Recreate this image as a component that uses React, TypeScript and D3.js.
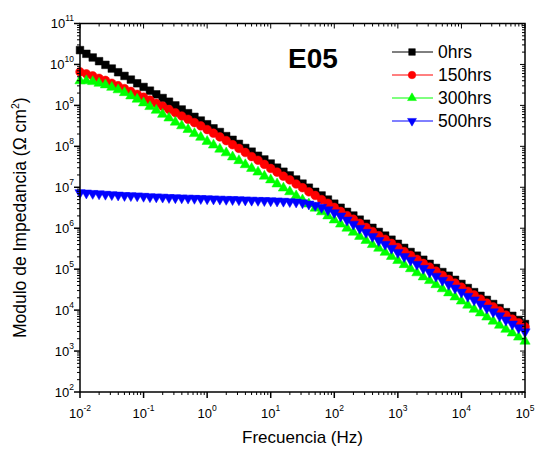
import React from 'react';
import * as d3 from 'd3';

// Sweep frequencies (Hz), 10 points per decade
const FREQ_HZ = [
  0.01, 0.01259, 0.01585, 0.01995, 0.02512, 0.03162, 0.03981, 0.05012, 0.0631, 0.07943,
  0.1, 0.1259, 0.1585, 0.1995, 0.2512, 0.3162, 0.3981, 0.5012, 0.631, 0.7943,
  1, 1.259, 1.585, 1.995, 2.512, 3.162, 3.981, 5.012, 6.31, 7.943,
  10, 12.59, 15.85, 19.95, 25.12, 31.62, 39.81, 50.12, 63.1, 79.43,
  100, 125.9, 158.5, 199.5, 251.2, 316.2, 398.1, 501.2, 631, 794.3,
  1000, 1259, 1585, 1995, 2512, 3162, 3981, 5012, 6310, 7943,
  10000, 12590, 15850, 19950, 25120, 31620, 39810, 50120, 63100, 79430,
  100000,
];

// log10 |Z| (Ohm cm^2) for each exposure time
const LOG_Z_0H = [
  10.35, 10.26, 10.17, 10.08, 9.99, 9.90, 9.81, 9.72, 9.63, 9.54,
  9.45, 9.36, 9.27, 9.18, 9.09, 9.00, 8.90, 8.81, 8.72, 8.63,
  8.54, 8.44, 8.35, 8.25, 8.16, 8.06, 7.96, 7.87, 7.77, 7.68,
  7.58, 7.48, 7.38, 7.29, 7.19, 7.09, 6.99, 6.89, 6.80, 6.70,
  6.60, 6.50, 6.40, 6.31, 6.21, 6.11, 6.01, 5.91, 5.82, 5.72,
  5.62, 5.52, 5.42, 5.33, 5.23, 5.13, 5.03, 4.93, 4.84, 4.74,
  4.64, 4.54, 4.44, 4.35, 4.25, 4.15, 4.05, 3.95, 3.86, 3.76,
  3.66,
];
const LOG_Z_150H = [
  9.82, 9.77, 9.72, 9.66, 9.61, 9.54, 9.48, 9.41, 9.34, 9.27,
  9.20, 9.13, 9.05, 8.98, 8.90, 8.82, 8.74, 8.66, 8.58, 8.50,
  8.41, 8.32, 8.23, 8.14, 8.04, 7.95, 7.85, 7.75, 7.66, 7.56,
  7.46, 7.37, 7.27, 7.18, 7.08, 6.99, 6.89, 6.80, 6.70, 6.61,
  6.51, 6.41, 6.31, 6.22, 6.12, 6.02, 5.92, 5.82, 5.73, 5.63,
  5.53, 5.43, 5.34, 5.24, 5.14, 5.05, 4.95, 4.85, 4.75, 4.66,
  4.56, 4.46, 4.37, 4.27, 4.17, 4.08, 3.98, 3.88, 3.78, 3.69,
  3.59,
];
const LOG_Z_300H = [
  9.60, 9.60, 9.58, 9.54, 9.50, 9.44, 9.38, 9.31, 9.23, 9.15,
  9.06, 8.97, 8.88, 8.78, 8.69, 8.59, 8.50, 8.41, 8.31, 8.22,
  8.12, 8.03, 7.93, 7.84, 7.74, 7.65, 7.55, 7.46, 7.37, 7.27,
  7.18, 7.08, 6.98, 6.89, 6.79, 6.69, 6.59, 6.49, 6.40, 6.30,
  6.20, 6.10, 6.00, 5.90, 5.80, 5.70, 5.60, 5.51, 5.41, 5.31,
  5.21, 5.11, 5.01, 4.91, 4.81, 4.72, 4.62, 4.52, 4.42, 4.32,
  4.22, 4.12, 4.02, 3.93, 3.83, 3.73, 3.63, 3.53, 3.44, 3.34,
  3.24,
];
const LOG_Z_500H = [
  6.87, 6.86, 6.85, 6.84, 6.83, 6.82, 6.81, 6.80, 6.795, 6.79,
  6.78, 6.77, 6.765, 6.76, 6.75, 6.745, 6.74, 6.735, 6.73, 6.725,
  6.72, 6.715, 6.71, 6.705, 6.70, 6.695, 6.69, 6.685, 6.68, 6.675,
  6.67, 6.665, 6.66, 6.65, 6.64, 6.62, 6.59, 6.56, 6.51, 6.45,
  6.38, 6.30, 6.20, 6.10, 6.00, 5.90, 5.80, 5.70, 5.61, 5.51,
  5.41, 5.31, 5.22, 5.12, 5.02, 4.93, 4.83, 4.73, 4.63, 4.54,
  4.44, 4.34, 4.25, 4.15, 4.05, 3.96, 3.86, 3.76, 3.66, 3.57,
  3.47,
];

const SERIES_NAMES = ['0hrs', '150hrs', '300hrs', '500hrs'];
const SERIES_COLORS = ['#000000', '#ff0000', '#00ff00', '#0000ff'];
const SERIES_SHAPES = ['square', 'circle', 'triangleUp', 'triangleDown'];
const SERIES_LOGZ = [LOG_Z_0H, LOG_Z_150H, LOG_Z_300H, LOG_Z_500H];

const X_EXPONENTS = [-2, -1, 0, 1, 2, 3, 4, 5];
const Y_EXPONENTS = [2, 3, 4, 5, 6, 7, 8, 9, 10, 11];

const W = 535;
const H = 449;
const M = { left: 80, right: 525, top: 23.5, bottom: 392 };
const FONT = "'Liberation Sans', Arial, Helvetica, sans-serif";

function markerPath(shape: string, scale = 1): { d: string; rotate: number } {
  const s = scale;
  if (shape === 'square') return { d: d3.symbol(d3.symbolSquare, 58 * s)()!, rotate: 0 };
  if (shape === 'circle') return { d: d3.symbol(d3.symbolCircle, 60 * s)()!, rotate: 0 };
  if (shape === 'triangleUp') return { d: d3.symbol(d3.symbolTriangle, 46 * s)()!, rotate: 0 };
  return { d: d3.symbol(d3.symbolTriangle, 46 * s)()!, rotate: 180 };
}

export default function App() {
  const x = d3.scaleLog().domain([1e-2, 1e5]).range([M.left, M.right]);
  const y = d3.scaleLog().domain([1e2, 1e11]).range([M.bottom, M.top]);

  const xMinor: number[] = [];
  for (let e = -2; e < 5; e++) for (let k = 2; k <= 9; k++) xMinor.push(k * Math.pow(10, e));
  const yMinor: number[] = [];
  for (let e = 2; e < 11; e++) for (let k = 2; k <= 9; k++) yMinor.push(k * Math.pow(10, e));

  const line = d3
    .line<[number, number]>()
    .x((d) => x(d[0]))
    .y((d) => y(d[1]));

  const series = SERIES_NAMES.map((name, si) => ({
    name,
    color: SERIES_COLORS[si],
    shape: SERIES_SHAPES[si],
    points: FREQ_HZ.map((f, i) => [f, Math.pow(10, SERIES_LOGZ[si][i])] as [number, number]),
  }));

  const legendX0 = 392;
  const legendX1 = 433;
  const legendMarkX = 412;
  const legendTextX = 438;
  const legendRows = [52, 75, 98, 121];

  return (
    <svg
      width={W}
      height={H}
      viewBox={`0 0 ${W} ${H}`}
      style={{ position: 'absolute', left: 0, top: 0, background: '#fff' }}
      fontFamily={FONT}
    >
      <rect x={0} y={0} width={W} height={H} fill="#fff" />

      {/* data */}
      <g>
        {series.map((s) => {
          const mk = markerPath(s.shape);
          return (
            <g key={s.name}>
              <path d={line(s.points)!} fill="none" stroke={s.color} strokeWidth={1} />
              {s.points.map((p, i) => (
                <path
                  key={i}
                  d={mk.d}
                  transform={`translate(${x(p[0])},${y(p[1])}) rotate(${mk.rotate})`}
                  fill={s.color}
                  stroke={s.color}
                  strokeWidth={0.5}
                />
              ))}
            </g>
          );
        })}
      </g>

      {/* frame */}
      <rect
        x={M.left}
        y={M.top}
        width={M.right - M.left}
        height={M.bottom - M.top}
        fill="none"
        stroke="#000"
        strokeWidth={1.5}
      />

      {/* x ticks */}
      <g stroke="#000" strokeWidth={1}>
        {X_EXPONENTS.map((e) => {
          const px = x(Math.pow(10, e));
          return (
            <g key={`xM${e}`}>
              <line x1={px} x2={px} y1={M.bottom} y2={M.bottom + 6} strokeWidth={1.5} />
              <line x1={px} x2={px} y1={M.top} y2={M.top + 5} />
            </g>
          );
        })}
        {xMinor.map((v, i) => {
          const px = x(v);
          return (
            <g key={`xm${i}`}>
              <line x1={px} x2={px} y1={M.bottom} y2={M.bottom + 3} />
              <line x1={px} x2={px} y1={M.top} y2={M.top + 3} />
            </g>
          );
        })}
      </g>

      {/* y ticks */}
      <g stroke="#000" strokeWidth={1}>
        {Y_EXPONENTS.map((e) => {
          const py = y(Math.pow(10, e));
          return (
            <g key={`yM${e}`}>
              <line x1={M.left - 6} x2={M.left} y1={py} y2={py} strokeWidth={1.5} />
              <line x1={M.right - 5} x2={M.right} y1={py} y2={py} />
            </g>
          );
        })}
        {yMinor.map((v, i) => {
          const py = y(v);
          return (
            <g key={`ym${i}`}>
              <line x1={M.left - 3} x2={M.left} y1={py} y2={py} />
              <line x1={M.right - 3} x2={M.right} y1={py} y2={py} />
            </g>
          );
        })}
      </g>

      {/* tick labels */}
      <g fill="#000">
        {X_EXPONENTS.map((e) => (
          <text key={`xl${e}`} x={x(Math.pow(10, e))} y={418} textAnchor="middle" fontSize={13}>
            10
            <tspan dy={-7} fontSize={8.5}>
              {e}
            </tspan>
          </text>
        ))}
        {Y_EXPONENTS.map((e) => (
          <text key={`yl${e}`} x={74} y={y(Math.pow(10, e)) + 4.5} textAnchor="end" fontSize={13}>
            10
            <tspan dy={-7} fontSize={8.5}>
              {e}
            </tspan>
          </text>
        ))}
      </g>

      {/* axis titles */}
      <text x={(M.left + M.right) / 2} y={443} textAnchor="middle" fontSize={17}>
        Frecuencia (Hz)
      </text>
      <text
        transform={`translate(26,${(M.top + M.bottom) / 2 + 10}) rotate(-90)`}
        textAnchor="middle"
        fontSize={17.5}
      >
        Modulo de Impedancia (Ω cm
        <tspan dy={-7} fontSize={10.5}>
          2
        </tspan>
        <tspan dy={7}>)</tspan>
      </text>

      {/* sample tag */}
      <text x={288} y={68} fontSize={28} fontWeight="bold">
        E05
      </text>

      {/* legend */}
      <g>
        {series.map((s, i) => {
          const mk = markerPath(s.shape, 0.75);
          const ry = legendRows[i];
          return (
            <g key={`lg${s.name}`}>
              <line x1={legendX0} x2={legendX1} y1={ry} y2={ry} stroke={s.color} strokeWidth={1} />
              <path
                d={mk.d}
                transform={`translate(${legendMarkX},${ry}) rotate(${mk.rotate})`}
                fill={s.color}
                stroke={s.color}
                strokeWidth={0.5}
              />
              <text x={legendTextX} y={ry + 6} fontSize={17.5} fill="#000">
                {s.name}
              </text>
            </g>
          );
        })}
      </g>
    </svg>
  );
}
